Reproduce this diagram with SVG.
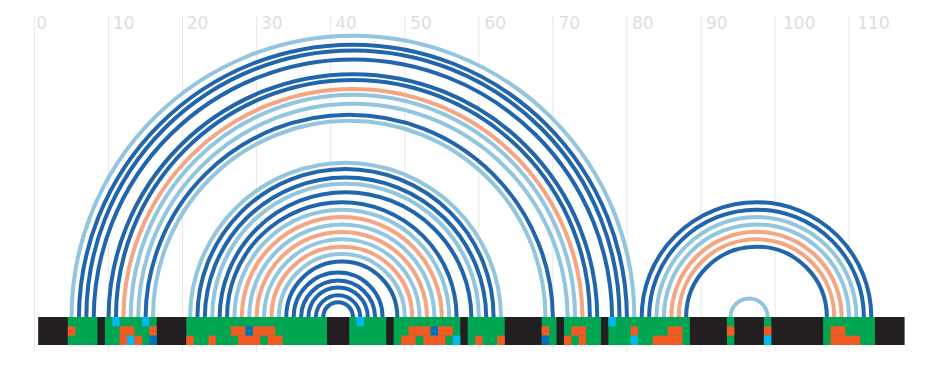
<svg xmlns="http://www.w3.org/2000/svg" width="936" height="366" viewBox="0 0 936 366">
<style>
.grid{stroke:#e8e8e8;stroke-width:1}
.lbl{font-family:"DejaVu Sans",Verdana,sans-serif;font-size:17px;fill:#dedede}
.arc{fill:none;stroke-width:4}
.db{stroke:#2166ac}.lb{stroke:#92c5de}.sa{stroke:#f4a582}
.k{fill:#231f20}.g{fill:#00a651}.o{fill:#f15a22}.c{fill:#00b9f1}.b{fill:#0072bc}
</style>
<rect width="936" height="366" fill="#fff"/>
<g id="axis">
<line class="grid" x1="34.5" y1="15" x2="34.5" y2="352"/>
<line class="grid" x1="108.55" y1="15" x2="108.55" y2="352"/>
<line class="grid" x1="182.6" y1="15" x2="182.6" y2="352"/>
<line class="grid" x1="256.65" y1="15" x2="256.65" y2="352"/>
<line class="grid" x1="330.7" y1="15" x2="330.7" y2="352"/>
<line class="grid" x1="404.75" y1="15" x2="404.75" y2="352"/>
<line class="grid" x1="478.8" y1="15" x2="478.8" y2="352"/>
<line class="grid" x1="552.85" y1="15" x2="552.85" y2="352"/>
<line class="grid" x1="626.9" y1="15" x2="626.9" y2="352"/>
<line class="grid" x1="700.95" y1="15" x2="700.95" y2="352"/>
<line class="grid" x1="775" y1="15" x2="775" y2="352"/>
<line class="grid" x1="849.05" y1="15" x2="849.05" y2="352"/>
<text class="lbl" x="36.2" y="29.3">0</text>
<text class="lbl" x="113" y="29.3">10</text>
<text class="lbl" x="186.8" y="29.3">20</text>
<text class="lbl" x="261" y="29.3">30</text>
<text class="lbl" x="335.2" y="29.3">40</text>
<text class="lbl" x="410.2" y="29.3">50</text>
<text class="lbl" x="484.5" y="29.3">60</text>
<text class="lbl" x="558.5" y="29.3">70</text>
<text class="lbl" x="632" y="29.3">80</text>
<text class="lbl" x="706" y="29.3">90</text>
<text class="lbl" x="783" y="29.3">100</text>
<text class="lbl" x="857.3" y="29.3">110</text>
</g>
<g id="connectors">
<path class="arc lb" d="M71.53 317A281.39 281.39 0 0 1 634.31 317"/>
<path class="arc db" d="M78.93 317A273.99 273.99 0 0 1 626.9 317"/>
<path class="arc db" d="M86.34 317A266.58 266.58 0 0 1 619.5 317"/>
<path class="arc db" d="M93.74 317A259.18 259.18 0 0 1 612.09 317"/>
<path class="arc db" d="M108.55 317A244.37 244.37 0 0 1 597.28 317"/>
<path class="arc db" d="M115.96 317A236.96 236.96 0 0 1 589.88 317"/>
<path class="arc sa" d="M123.36 317A229.56 229.56 0 0 1 582.47 317"/>
<path class="arc lb" d="M130.77 317A222.15 222.15 0 0 1 575.07 317"/>
<path class="arc lb" d="M138.17 317A214.75 214.75 0 0 1 567.66 317"/>
<path class="arc db" d="M145.58 317A203.64 203.64 0 0 1 552.85 317"/>
<path class="arc lb" d="M152.98 317A196.23 196.23 0 0 1 545.45 317"/>
<path class="arc lb" d="M190.01 317A155.51 155.51 0 0 1 501.02 317"/>
<path class="arc db" d="M197.41 317A148.1 148.1 0 0 1 493.61 317"/>
<path class="arc db" d="M204.82 317A140.7 140.7 0 0 1 486.21 317"/>
<path class="arc lb" d="M212.22 317A133.29 133.29 0 0 1 478.8 317"/>
<path class="arc db" d="M219.63 317A125.89 125.89 0 0 1 471.4 317"/>
<path class="arc db" d="M227.03 317A114.78 114.78 0 0 1 456.59 317"/>
<path class="arc lb" d="M234.44 317A107.37 107.37 0 0 1 449.18 317"/>
<path class="arc sa" d="M241.84 317A99.97 99.97 0 0 1 441.78 317"/>
<path class="arc lb" d="M249.25 317A92.56 92.56 0 0 1 434.37 317"/>
<path class="arc sa" d="M256.65 317A85.16 85.16 0 0 1 426.97 317"/>
<path class="arc lb" d="M264.06 317A77.75 77.75 0 0 1 419.56 317"/>
<path class="arc sa" d="M271.46 317A70.35 70.35 0 0 1 412.16 317"/>
<path class="arc lb" d="M278.87 317A62.94 62.94 0 0 1 404.75 317"/>
<path class="arc db" d="M286.27 317A55.54 55.54 0 0 1 397.35 317"/>
<path class="arc db" d="M293.68 317A44.43 44.43 0 0 1 382.54 317"/>
<path class="arc db" d="M301.08 317A37.03 37.03 0 0 1 375.13 317"/>
<path class="arc db" d="M308.49 317A29.62 29.62 0 0 1 367.73 317"/>
<path class="arc db" d="M315.89 317A22.22 22.22 0 0 1 360.32 317"/>
<path class="arc db" d="M323.3 317A14.81 14.81 0 0 1 352.92 317"/>
<path class="arc db" d="M641.71 317A114.78 114.78 0 0 1 871.27 317"/>
<path class="arc db" d="M649.12 317A107.37 107.37 0 0 1 863.86 317"/>
<path class="arc lb" d="M656.52 317A99.97 99.97 0 0 1 856.46 317"/>
<path class="arc lb" d="M663.93 317A92.56 92.56 0 0 1 849.05 317"/>
<path class="arc sa" d="M671.33 317A85.16 85.16 0 0 1 841.65 317"/>
<path class="arc sa" d="M678.74 317A77.75 77.75 0 0 1 834.24 317"/>
<path class="arc db" d="M686.14 317A70.35 70.35 0 0 1 826.84 317"/>
<path class="arc lb" d="M730.57 317A18.51 18.51 0 0 1 767.6 317"/>
</g>
<g id="sequence-bar">
<rect class="k" x="38.2" y="317" width="866.39" height="28"/>
</g>
<g id="paired-blocks">
<rect class="g" x="67.82" y="317" width="29.62" height="28"/>
<rect class="g" x="104.85" y="317" width="51.84" height="28"/>
<rect class="g" x="186.3" y="317" width="140.7" height="28"/>
<rect class="g" x="349.21" y="317" width="37.03" height="28"/>
<rect class="g" x="393.64" y="317" width="66.65" height="28"/>
<rect class="g" x="467.69" y="317" width="37.03" height="28"/>
<rect class="g" x="541.74" y="317" width="14.81" height="28"/>
<rect class="g" x="563.96" y="317" width="37.03" height="28"/>
<rect class="g" x="608.39" y="317" width="81.46" height="28"/>
<rect class="g" x="726.87" y="317" width="7.41" height="28"/>
<rect class="g" x="763.89" y="317" width="7.41" height="28"/>
<rect class="g" x="823.13" y="317" width="51.84" height="28"/>
</g>
<g id="annotations-top">
<rect class="c" x="112.25" y="317" width="7.41" height="9.34"/>
<rect class="c" x="141.87" y="317" width="7.41" height="9.34"/>
<rect class="c" x="356.62" y="317" width="7.41" height="9.34"/>
<rect class="c" x="608.39" y="317" width="7.41" height="9.34"/>
</g>
<g id="annotations-middle">
<rect class="o" x="67.82" y="326.33" width="7.41" height="9.34"/>
<rect class="o" x="119.66" y="326.33" width="14.81" height="9.34"/>
<rect class="o" x="149.28" y="326.33" width="7.41" height="9.34"/>
<rect class="o" x="230.73" y="326.33" width="14.81" height="9.34"/>
<rect class="b" x="245.54" y="326.33" width="7.41" height="9.34"/>
<rect class="o" x="252.95" y="326.33" width="22.22" height="9.34"/>
<rect class="o" x="408.45" y="326.33" width="22.22" height="9.34"/>
<rect class="b" x="430.67" y="326.33" width="7.41" height="9.34"/>
<rect class="o" x="438.07" y="326.33" width="14.81" height="9.34"/>
<rect class="o" x="541.74" y="326.33" width="7.41" height="9.34"/>
<rect class="o" x="571.36" y="326.33" width="14.81" height="9.34"/>
<rect class="o" x="630.6" y="326.33" width="7.41" height="9.34"/>
<rect class="o" x="667.63" y="326.33" width="14.81" height="9.34"/>
<rect class="o" x="726.87" y="326.33" width="7.41" height="9.34"/>
<rect class="o" x="763.89" y="326.33" width="7.41" height="9.34"/>
<rect class="o" x="830.54" y="326.33" width="14.81" height="9.34"/>
</g>
<g id="annotations-bottom">
<rect class="o" x="119.66" y="335.67" width="7.41" height="9.33"/>
<rect class="c" x="127.06" y="335.67" width="7.41" height="9.33"/>
<rect class="o" x="134.47" y="335.67" width="7.41" height="9.33"/>
<rect class="b" x="149.28" y="335.67" width="7.41" height="9.33"/>
<rect class="o" x="186.3" y="335.67" width="7.41" height="9.33"/>
<rect class="o" x="208.52" y="335.67" width="7.41" height="9.33"/>
<rect class="o" x="238.14" y="335.67" width="22.22" height="9.33"/>
<rect class="o" x="267.76" y="335.67" width="14.81" height="9.33"/>
<rect class="o" x="401.05" y="335.67" width="14.81" height="9.33"/>
<rect class="o" x="423.26" y="335.67" width="22.22" height="9.33"/>
<rect class="c" x="452.88" y="335.67" width="7.41" height="9.33"/>
<rect class="o" x="475.1" y="335.67" width="7.41" height="9.33"/>
<rect class="o" x="497.31" y="335.67" width="7.41" height="9.33"/>
<rect class="b" x="541.74" y="335.67" width="7.41" height="9.33"/>
<rect class="o" x="563.96" y="335.67" width="7.41" height="9.33"/>
<rect class="o" x="578.77" y="335.67" width="7.41" height="9.33"/>
<rect class="c" x="630.6" y="335.67" width="7.41" height="9.33"/>
<rect class="o" x="652.82" y="335.67" width="29.62" height="9.33"/>
<rect class="c" x="763.89" y="335.67" width="7.41" height="9.33"/>
<rect class="o" x="830.54" y="335.67" width="29.62" height="9.33"/>
</g>
</svg>
